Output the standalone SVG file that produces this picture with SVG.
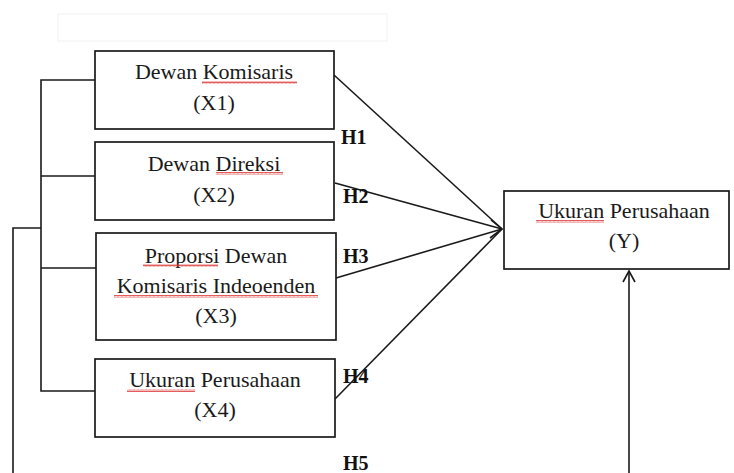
<svg xmlns="http://www.w3.org/2000/svg" width="734" height="473" viewBox="0 0 734 473">
<style>
.box{fill:#fff;stroke:#1a1a1a;stroke-width:1.7}
.t{font-family:"Liberation Serif","DejaVu Serif",serif;font-size:22px;fill:#1a1a1a;text-anchor:middle}
.h{font-family:"Liberation Serif","DejaVu Serif",serif;font-size:20px;font-weight:bold;fill:#111}
.ln{stroke:#1a1a1a;stroke-width:1.6;fill:none}
.wv{fill:url(#wave)}
</style>
<defs>
<pattern id="wave" width="4" height="3" patternUnits="userSpaceOnUse">
<path d="M0,2.5 L1,0.5 L2,2.5 L3,0.5 L4,2.5" fill="none" stroke="#d33" stroke-width="0.8"/>
</pattern>
</defs>
<rect x="58" y="14" width="329" height="27" fill="none" stroke="#f2f2f2" stroke-width="1"/>
<g id="connectors">
<path class="ln" d="M95,80 H41 V391 H95"/>
<path class="ln" d="M41,176 H95"/>
<path class="ln" d="M41,268 H96"/>
<path class="ln" d="M41,228 H13 V473"/>
<path class="ln" d="M334,75 L502,229"/>
<path class="ln" d="M335,183 L502,229"/>
<path class="ln" d="M336,278 L502,229"/>
<path class="ln" d="M335,399 L502,229"/>
<path class="ln" d="M491,220 L502,229 L490,238"/>
<path class="ln" d="M629,473 V271"/>
<path class="ln" d="M623,282 L629,271 L635,282"/>
<text class="h" x="341" y="144">H1</text>
<text class="h" x="343" y="203">H2</text>
<text class="h" x="343" y="263">H3</text>
<text class="h" x="343" y="383">H4</text>
<text class="h" x="343" y="470">H5</text>
</g>
<g id="x1">
<rect class="box" x="95" y="51" width="239" height="78"/>
<text class="t" x="214" y="79">Dewan Komisaris</text>
<text class="t" x="214" y="110">(X1)</text>
<rect class="wv" x="202" y="81" width="95" height="3"/>
</g>
<g id="x2">
<rect class="box" x="95" y="142" width="239" height="78"/>
<text class="t" x="214" y="171">Dewan Direksi</text>
<text class="t" x="214" y="202">(X2)</text>
<rect class="wv" x="216" y="172" width="67" height="3"/>
</g>
<g id="x3">
<rect class="box" x="96" y="233" width="240" height="107"/>
<text class="t" x="216" y="263">Proporsi Dewan</text>
<text class="t" x="216" y="293">Komisaris Indeoenden</text>
<text class="t" x="216" y="323">(X3)</text>
<rect class="wv" x="143" y="264" width="75" height="3"/>
<rect class="wv" x="114" y="295" width="204" height="3"/>
</g>
<g id="x4">
<rect class="box" x="95" y="359" width="240" height="78"/>
<text class="t" x="215" y="387">Ukuran Perusahaan</text>
<text class="t" x="215" y="417">(X4)</text>
<rect class="wv" x="127" y="389" width="68" height="3"/>
</g>
<g id="y">
<rect class="box" x="504" y="191" width="225" height="78"/>
<text class="t" x="624" y="218">Ukuran Perusahaan</text>
<text class="t" x="624" y="248">(Y)</text>
<rect class="wv" x="536" y="220" width="68" height="3"/>
</g>
</svg>
